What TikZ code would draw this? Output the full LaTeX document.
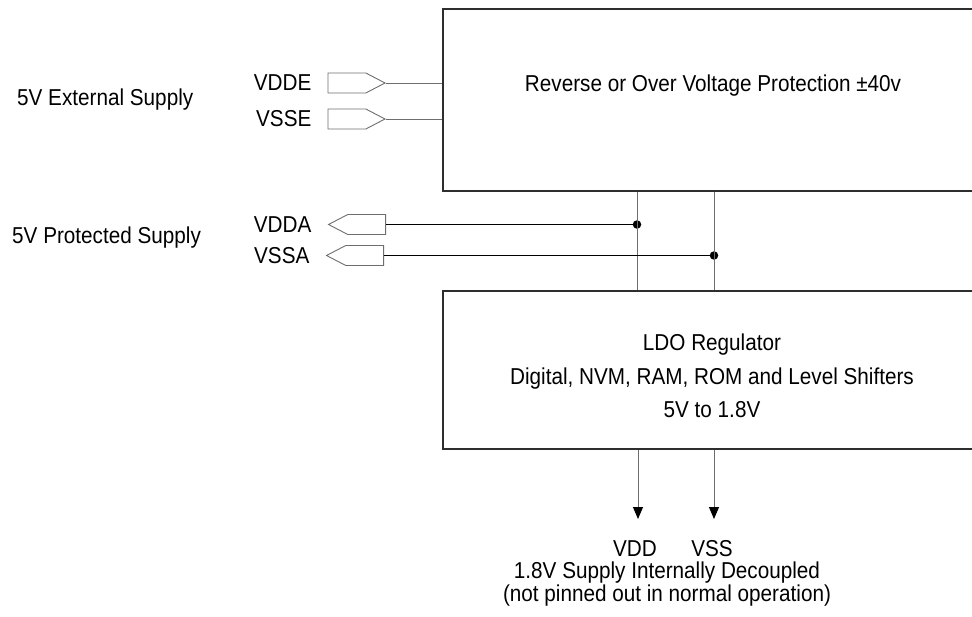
\documentclass[tikz,border=0pt]{standalone}
\usepackage{fontspec}
\setmainfont{Liberation Sans}[FakeStretch=0.9]
\definecolor{wireGray}{HTML}{6E6E6E}
\definecolor{boxGray}{HTML}{2E2E2E}
\usetikzlibrary{arrows.meta,positioning,shapes.symbols}

\begin{document}
\begin{tikzpicture}[
    x=1pt, y=-1pt,
    node distance=16pt,
    lbl/.style={inner sep=0pt, font=\fontsize{23}{23}\selectfont},
    blk/.style={draw=boxGray, line width=1.6pt, minimum width=540pt, inner sep=0pt},
    pinin/.style={signal, signal to=east, signal pointer angle=55, draw=wireGray, anchor=east,
                  line width=0.9pt, minimum width=57pt, minimum height=20pt, inner sep=0pt},
    pinout/.style={pinin, signal to=west},
    wire/.style={wireGray, line width=0.9pt},
    sig/.style={black, line width=0.9pt},
    arr/.style={wireGray, line width=0.9pt, -{Triangle[length=12pt,width=10pt,black]}},
    dot/.style={circle, fill=black, inner sep=0pt, minimum size=8.5pt}
  ]
    \useasboundingbox (0,0) rectangle (972,617);

    \node[blk, minimum height=182pt] (ovp) at (713,100) {};
    \node[lbl, anchor=base] (ovptxt) at (713,92) {Reverse or Over Voltage Protection ±40v};

    \node[blk, minimum height=158pt] (ldo) at (713,370) {};
    \node[lbl, align=center, font=\fontsize{23}{33.5}\selectfont] (ldotxt) at (712,376)
      {LDO Regulator\\Digital, NVM, RAM, ROM and Level Shifters\\5V to 1.8V};

    % External supply pins
    \node[pinin] (pinvdde) at (386,83) {};
    \node[pinin] (pinvsse) at (386,119) {};
    \node[lbl, left=16pt of pinvdde] (vdde) {VDDE};
    \node[lbl, left=16pt of pinvsse] (vsse) {VSSE};
    \node[lbl, anchor=base west] (extsup) at (17,106) {5V External Supply};

    \draw[wire] (pinvdde.east) -- (pinvdde.east -| ovp.west);
    \draw[wire] (pinvsse.east) -- (pinvsse.east -| ovp.west);

    % Protected supply pins
    \node[pinout] (pinvdda) at (386,224.5) {};
    \node[pinout] (pinvssa) at (384,255.5) {};
    \node[lbl, left=16pt of pinvdda] (vdda) {VDDA};
    \node[lbl, left=16pt of pinvssa] (vssa) {VSSA};
    \node[lbl, anchor=base west] (protsup) at (12,244) {5V Protected Supply};

    \node[dot] (jvdd) at (637,224.5) {};
    \node[dot] (jvss) at (714,255.5) {};
    \draw[wire] (ovp.south -| jvdd) -- (ldo.north -| jvdd);
    \draw[wire] (ovp.south -| jvss) -- (ldo.north -| jvss);
    \draw[sig] (pinvdda.east) -- (jvdd);
    \draw[sig] (pinvssa.east) -- (jvss);

    % Outputs below
    \coordinate (vddend) at (638,519);
    \coordinate (vssend) at (714,519);
    \draw[arr] (ldo.south -| vddend) -- (vddend);
    \draw[arr] (ldo.south -| vssend) -- (vssend);
    \node[lbl, below=21pt of vddend, xshift=-3pt] (vdd) {VDD};
    \node[lbl, below=21pt of vssend, xshift=-2pt] (vss) {VSS};
    \node[lbl, align=center, anchor=north] (note) at (667,562)
      {1.8V Supply Internally Decoupled\\(not pinned out in normal operation)};
  \end{tikzpicture}
\end{document}
